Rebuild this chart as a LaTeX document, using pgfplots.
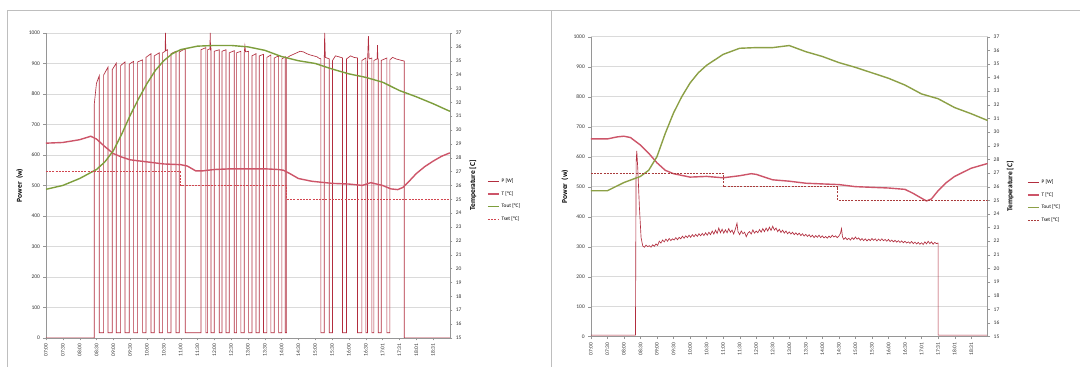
\documentclass[border=0pt]{standalone}
\usepackage{fontspec}
\setmainfont{Carlito}
\usepackage{pgfplots}
\pgfplotsset{compat=1.18}
\definecolor{pcol}{RGB}{178,45,62}
\definecolor{tcol}{RGB}{205,85,105}
\definecolor{toutcol}{RGB}{125,158,60}
\definecolor{toutcolb}{RGB}{140,160,70}
\definecolor{tsetcol}{RGB}{210,70,80}
\definecolor{tsetcolb}{RGB}{170,60,60}
\definecolor{gridc}{RGB}{218,218,218}
\definecolor{axc}{RGB}{150,150,150}
\definecolor{framec}{RGB}{190,190,190}
\pgfplotsset{
  panel/.style={scale only axis, xmin=7, xmax=19,
    /pgf/number format/assume math mode=true,
    /pgf/number format/1000 sep={},
    tick label style={font=\fontsize{5.5}{6}\selectfont, color=black!80},
    axis line style={draw=axc}, tick style={draw=axc},
    tick align=outside, major tick length=2.5pt},
  mainax/.style={panel, axis x line*=bottom, axis y line*=left,
    ymin=0, ymax=1000, ytick distance=100,
    ymajorgrids, grid style={draw=gridc, line width=0.5pt},
    xtick={7,7.5,...,18.5},
    xticklabels={07:00,07:30,08:00,08:30,09:00,09:30,10:00,10:30,11:00,11:30,12:00,12:30,13:00,13:30,14:00,14:30,15:00,15:30,16:00,16:30,17:01,17:31,18:01,18:31},
    x tick label style={rotate=90, anchor=east},
    ylabel={Power\ \ (w)},
    ylabel style={font=\bfseries\fontsize{7.5}{8}\selectfont, at={(axis description cs:-0.065,0.5)}, anchor=center}},
  secax/.style={panel, axis y line*=right, axis x line=none,
    ymin=15, ymax=37, ytick distance=1,
    ylabel={Temperature [C]},
    ylabel style={font=\bfseries\fontsize{7.5}{8}\selectfont, at={(axis description cs:1.057,0.5)}, anchor=center},
    legend cell align=left,
    legend style={draw=none, fill=none, inner sep=0pt, font=\fontsize{5.3}{6}\selectfont, row sep=3.2pt, anchor=west},
    legend image code/.code={\draw[#1] (0pt,0pt) -- (11pt,0pt);}},
  pst/.style={draw=pcol, line width=0.65pt},
  tst/.style={draw=tcol, line width=1.4pt},
  toutst/.style={draw=toutcol, line width=1.4pt},
  tsetst/.style={draw=tsetcol, line width=0.75pt, dash pattern=on 2pt off 1.2pt},
}
\begin{document}
\begin{tikzpicture}
\fill[white] (0pt,0pt) rectangle (1080pt,367pt);
\draw[framec, line width=0.7pt] (552pt,357pt) -- (7pt,357pt) -- (7pt,0pt);
% ---------------- LEFT PANEL ----------------
\begin{axis}[mainax, at={(46pt,29pt)}, anchor=south west, width=404pt, height=305pt]
\addplot[pst] coordinates {
(7,0)(8.436,0)(8.436,768)(8.5,835)(8.584,860)(8.584,17)
(8.713,17)(8.713,862)(8.842,888)(8.842,17)
(8.970,17)(8.970,880)(9.089,901)(9.089,17)
(9.218,17)(9.218,893)(9.347,905)(9.347,17)
(9.475,17)(9.475,898)(9.604,907)(9.604,17)
(9.723,17)(9.723,905)(9.871,912)(9.871,17)
(9.970,17)(9.970,920)(10.119,932)(10.119,17)
(10.218,17)(10.218,925)(10.366,935)(10.366,17)
(10.465,17)(10.465,935)(10.54,940)(10.55,1000)(10.56,942)(10.614,945)(10.614,17)
(10.713,17)(10.713,932)(10.861,940)(10.861,17)
(10.960,17)(10.960,938)(11.139,948)(11.139,17)
(11.604,17)(11.604,945)(11.752,952)(11.752,17)
(11.802,17)(11.802,945)(11.87,948)(11.88,1000)(11.89,946)(11.901,948)(11.901,17)
(12.0,17)(12.0,940)(12.149,945)(12.149,17)
(12.228,17)(12.228,940)(12.347,945)(12.347,17)
(12.446,17)(12.446,935)(12.594,942)(12.594,17)
(12.663,17)(12.663,935)(12.792,940)(12.792,17)
(12.891,17)(12.891,935)(12.91,958)(12.93,938)(13.020,940)(13.020,17)
(13.119,17)(13.119,925)(13.238,932)(13.238,17)
(13.337,17)(13.337,925)(13.465,930)(13.465,17)
(13.564,17)(13.564,920)(13.683,928)(13.683,17)
(13.782,17)(13.782,918)(13.911,925)(13.911,17)
(14.010,17)(14.010,915)(14.109,922)(14.109,17)
(14.149,17)(14.149,918)(14.25,925)(14.35,930)(14.45,935)(14.55,940)(14.65,938)(14.75,932)(14.85,928)(14.95,925)(15.05,922)(15.1,918)(15.168,915)(15.168,17)
(15.267,17)(15.267,905)(15.28,1000)(15.3,920)(15.416,915)(15.416,17)
(15.515,17)(15.515,910)(15.6,925)(15.7,922)(15.812,918)(15.812,17)
(15.931,17)(15.931,915)(16.05,925)(16.15,920)(16.257,918)(16.257,17)
(16.386,17)(16.386,910)(16.505,918)(16.505,17)
(16.554,17)(16.554,905)(16.58,990)(16.6,915)(16.683,918)(16.683,17)
(16.743,17)(16.743,910)(16.84,915)(16.85,960)(16.86,915)(16.871,915)(16.871,17)
(16.960,17)(16.960,910)(17.129,918)(17.129,17)
(17.218,17)(17.218,912)(17.3,920)(17.4,915)(17.5,912)(17.644,908)(17.644,0)(19,0)
};
\node[font=\bfseries\fontsize{11}{12}\selectfont] at (rel axis cs:0.556,1.033) {07.08.2012};
\end{axis}
\begin{axis}[secax, at={(46pt,29pt)}, anchor=south west, width=404pt, height=305pt,
  legend style={at={(1.092,0.451)}}]
\addlegendimage{pst}\addlegendentry{P [W]}
\addplot[tst] coordinates {
(7,29.05)(7.5,29.1)(8,29.3)(8.2,29.45)(8.33,29.55)(8.5,29.35)(8.75,28.8)(9,28.3)(9.25,28.05)(9.5,27.85)(10,27.7)(10.5,27.55)(11,27.5)(11.2,27.4)(11.45,27.05)(11.65,27.05)(12,27.15)(12.5,27.2)(13,27.2)(13.5,27.2)(13.9,27.15)(14.05,27.1)(14.25,26.85)(14.5,26.5)(14.9,26.3)(15.5,26.15)(16,26.1)(16.4,26.0)(16.65,26.2)(17,26.0)(17.25,25.75)(17.45,25.7)(17.6,25.85)(17.75,26.2)(18,26.85)(18.25,27.35)(18.5,27.75)(18.75,28.1)(19,28.35)
};\addlegendentry{T [°C]}
\addplot[toutst] coordinates {
(7,25.72)(7.5,26.0)(8,26.5)(8.5,27.15)(8.75,27.7)(9,28.5)(9.25,29.7)(9.5,31.05)(9.75,32.25)(10,33.35)(10.25,34.3)(10.5,35.0)(10.75,35.5)(11,35.8)(11.5,36.05)(12,36.1)(12.5,36.1)(13,36.0)(13.5,35.75)(14,35.3)(14.5,35.0)(15,34.8)(15.5,34.4)(16,34.05)(16.5,33.8)(17,33.45)(17.5,32.85)(18,32.4)(18.5,31.9)(19,31.35)
};\addlegendentry{Tout [°C]}
\addplot[tsetst] coordinates {(7,27)(11,27)(11,26)(14.15,26)(14.15,25)(19,25)};
\addlegendentry{Tset [°C]}
\end{axis}
% ---------------- RIGHT PANEL ----------------
\fill[white] (552pt,0pt) rectangle (1080pt,357pt);
\draw[framec, line width=0.7pt] (1080pt,357pt) -- (552pt,357pt) -- (552pt,0pt);
\begin{axis}[mainax, at={(591pt,30.3pt)}, anchor=south west, width=397pt, height=300pt]
\addplot[pst] coordinates {
(7,5)(8.35,5)(8.37,580)(8.39,619)(8.42,560)(8.47,430)(8.52,330)(8.57,302)(8.62,298)(8.67,305)(8.72,300)(8.77,303)(8.82,298)(8.87,306)(8.92,301)(8.97,309)(9.02,304)(9.07,318)(9.12,312)(9.17,322)(9.22,316)(9.27,325)(9.32,318)(9.37,327)(9.42,320)(9.47,326)(9.52,322)(9.57,330)(9.62,323)(9.67,331)(9.72,326)(9.77,335)(9.82,328)(9.87,336)(9.92,330)(9.97,338)(10.02,331)(10.07,340)(10.12,333)(10.17,341)(10.22,334)(10.27,343)(10.32,336)(10.37,344)(10.42,337)(10.47,346)(10.52,338)(10.57,348)(10.62,340)(10.67,352)(10.72,342)(10.77,355)(10.82,344)(10.87,362)(10.92,346)(10.97,358)(11.02,345)(11.07,356)(11.12,346)(11.17,360)(11.22,348)(11.27,355)(11.32,342)(11.37,358)(11.42,378)(11.45,350)(11.5,340)(11.55,352)(11.6,343)(11.65,348)(11.7,333)(11.75,345)(11.8,350)(11.85,342)(11.9,356)(11.95,345)(12.0,352)(12.05,346)(12.1,357)(12.15,348)(12.2,360)(12.25,350)(12.3,362)(12.35,352)(12.4,365)(12.45,354)(12.5,368)(12.55,355)(12.6,362)(12.65,350)(12.7,358)(12.75,347)(12.8,355)(12.85,345)(12.9,352)(12.95,343)(13.0,349)(13.05,342)(13.1,348)(13.15,340)(13.2,346)(13.25,339)(13.3,345)(13.35,337)(13.4,343)(13.45,335)(13.5,341)(13.55,334)(13.6,340)(13.65,332)(13.7,338)(13.75,330)(13.8,337)(13.85,331)(13.9,338)(13.95,330)(14.0,336)(14.05,329)(14.1,334)(14.15,328)(14.2,335)(14.25,330)(14.3,338)(14.35,332)(14.4,336)(14.45,330)(14.5,335)(14.55,345)(14.58,360)(14.61,332)(14.65,324)(14.7,330)(14.75,323)(14.8,328)(14.85,322)(14.9,330)(14.95,324)(15.0,332)(15.05,325)(15.1,329)(15.15,321)(15.2,327)(15.25,320)(15.3,326)(15.35,319)(15.4,325)(15.45,320)(15.5,327)(15.55,321)(15.6,326)(15.65,319)(15.7,325)(15.75,320)(15.8,326)(15.85,320)(15.9,324)(15.95,318)(16.0,324)(16.05,317)(16.1,322)(16.15,316)(16.2,321)(16.25,315)(16.3,320)(16.35,314)(16.4,319)(16.45,313)(16.5,318)(16.55,312)(16.6,316)(16.65,311)(16.7,317)(16.75,310)(16.8,315)(16.85,309)(16.9,314)(16.95,308)(17.0,313)(17.05,307)(17.1,316)(17.15,309)(17.2,318)(17.25,310)(17.3,316)(17.35,308)(17.4,314)(17.45,310)(17.5,312)(17.5,5)(19,5)
};
\node[font=\bfseries\fontsize{11}{12}\selectfont] at (rel axis cs:0.556,1.046) {08.08.2012};
\end{axis}
\begin{axis}[secax, at={(591pt,30.3pt)}, anchor=south west, width=397pt, height=300pt,
  legend style={at={(1.099,0.451)}}]
\addlegendimage{pst}\addlegendentry{P [W]}
\addplot[tst] coordinates {
(7,29.5)(7.5,29.5)(7.8,29.65)(8,29.7)(8.2,29.6)(8.5,29.05)(8.75,28.45)(9,27.75)(9.25,27.2)(9.5,26.95)(10,26.7)(10.5,26.75)(11,26.65)(11.5,26.8)(11.85,26.95)(12,26.9)(12.25,26.7)(12.5,26.5)(13,26.4)(13.5,26.25)(14,26.2)(14.5,26.15)(15,26.0)(15.5,25.95)(16,25.9)(16.5,25.8)(16.75,25.5)(17,25.15)(17.15,24.95)(17.3,25.1)(17.5,25.7)(17.75,26.3)(18,26.75)(18.5,27.35)(19,27.7)
};\addlegendentry{T [°C]}
\addplot[toutst, draw=toutcolb] coordinates {
(7,25.7)(7.5,25.7)(8,26.3)(8.5,26.75)(8.75,27.2)(9,28.2)(9.25,29.9)(9.5,31.4)(9.75,32.6)(10,33.6)(10.25,34.35)(10.5,34.9)(11,35.7)(11.5,36.15)(12,36.2)(12.5,36.2)(13,36.35)(13.5,35.9)(14,35.55)(14.5,35.1)(15,34.75)(15.5,34.35)(16,33.95)(16.5,33.45)(17,32.8)(17.5,32.45)(18,31.8)(18.5,31.35)(19,30.85)
};\addlegendentry{Tout [°C]}
\addplot[tsetst, draw=tsetcolb] coordinates {(7,27)(11,27)(11,26)(14.47,26)(14.47,25)(19,25)};
\addlegendentry{Tset [°C]}
\end{axis}
\end{tikzpicture}
\end{document}
